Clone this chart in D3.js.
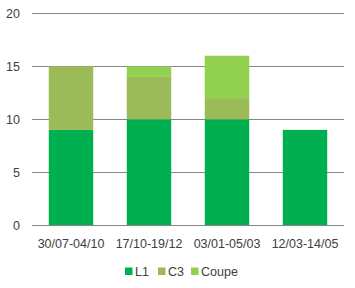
<!DOCTYPE html>
<html lang="en">
<head>
    <meta charset="UTF-8">
    <title>Stacked bars</title>
    <script src="https://d3js.org/d3.v7.min.js"></script>
    <style>
        body { margin: 0; background: #fff; font-family: "Liberation Sans", Arial, sans-serif; }
        svg text { fill: #404040; font-size: 12.5px; }
    </style>
</head>
<body>
    <div id="container"></div>
    <script>
        // Data
        const categories = ['30/07-04/10', '17/10-19/12', '03/01-05/03', '12/03-14/05'];
        const seriesNames = ['L1', 'C3', 'Coupe'];
        const l1 = [9, 10, 10, 9];
        const c3 = [6, 4, 2, 0];
        const coupe = [0, 1, 4, 0];
        const yTicks = [0, 5, 10, 15, 20];

        const colors = ['#00B050', '#9BBB59', '#92D050'];

        const width = 355, height = 288;
        const plotLeft = 32, plotRight = 344, plotTop = 13.3, plotBottom = 225.3;

        const svg = d3.select('#container').append('svg')
            .attr('width', width)
            .attr('height', height);

        // Build rows for the stack
        const rows = categories.map((c, i) => ({ cat: c, L1: l1[i], C3: c3[i], Coupe: coupe[i] }));
        const stacked = d3.stack().keys(seriesNames)(rows);

        const x = d3.scaleBand()
            .domain(categories)
            .range([plotLeft, plotRight])
            .paddingInner(0.43)
            .paddingOuter(0.215);

        const y = d3.scaleLinear()
            .domain([0, 20])
            .range([plotBottom, plotTop]);

        // Gridlines
        svg.selectAll('.grid')
            .data(yTicks)
            .enter()
            .append('line')
            .attr('x1', plotLeft)
            .attr('x2', plotRight)
            .attr('y1', d => Math.round(y(d)) + 0.5)
            .attr('y2', d => Math.round(y(d)) + 0.5)
            .attr('stroke', '#868686')
            .attr('stroke-width', 1);

        // Y tick labels
        svg.selectAll('.ylab')
            .data(yTicks)
            .enter()
            .append('text')
            .attr('x', 20)
            .attr('y', d => y(d) + 4.5)
            .attr('text-anchor', 'end')
            .text(d => d);

        // Bars
        svg.selectAll('.series')
            .data(stacked)
            .enter()
            .append('g')
            .attr('fill', (d, i) => colors[i])
            .selectAll('rect')
            .data(d => d.filter(p => p[1] > p[0]))
            .enter()
            .append('rect')
            .attr('x', d => x(d.data.cat))
            .attr('width', x.bandwidth())
            .attr('y', d => y(d[1]))
            .attr('height', d => y(d[0]) - y(d[1]));

        // Redraw the zero axis line on top
        svg.append('line')
            .attr('x1', plotLeft).attr('x2', plotRight)
            .attr('y1', Math.round(y(0)) + 0.5).attr('y2', Math.round(y(0)) + 0.5)
            .attr('stroke', '#868686');

        // X labels
        svg.selectAll('.xlab')
            .data(categories)
            .enter()
            .append('text')
            .attr('x', d => x(d) + x.bandwidth() / 2)
            .attr('y', 248)
            .attr('text-anchor', 'middle')
            .text(d => d);

        // Legend
        const legendX = [125, 158, 191];
        const legend = svg.selectAll('.legend')
            .data(seriesNames)
            .enter()
            .append('g')
            .attr('transform', (d, i) => `translate(${legendX[i]},267.5)`);

        legend.append('rect')
            .attr('width', 7.5)
            .attr('height', 7.5)
            .attr('fill', (d, i) => colors[i]);

        legend.append('text')
            .attr('x', 10)
            .attr('y', 8.5)
            .style('font-size', '12.5px')
            .text(d => d);
    </script>
</body>
</html>
